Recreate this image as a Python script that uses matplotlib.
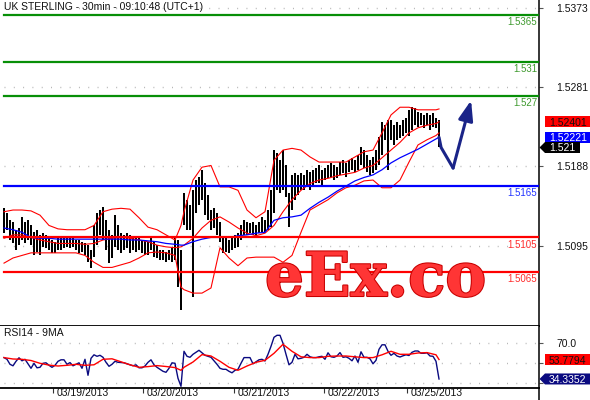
import numpy as np
import matplotlib
matplotlib.use('Agg')
import matplotlib.pyplot as plt
from matplotlib.patches import Polygon
from matplotlib.lines import Line2D
import matplotlib.patheffects as pe

plt.rcParams['font.family'] = ['Liberation Sans', 'DejaVu Sans']

# ---- price bars (30min), one value per bar ----
bar_high = [
    1.5139, 1.5133, 1.5125, 1.5123, 1.5114, 1.5116, 1.5129, 1.5123, 1.5125, 1.5119,
    1.5111, 1.5114, 1.5108, 1.5110, 1.5108, 1.5105, 1.5102, 1.5100, 1.5105, 1.5104,
    1.5107, 1.5105, 1.5104, 1.5105, 1.5102, 1.5102, 1.5100, 1.5098, 1.5096, 1.5090,
    1.5119, 1.5133, 1.5137, 1.5140, 1.5125, 1.5114, 1.5108, 1.5131, 1.5119, 1.5110,
    1.5108, 1.5110, 1.5108, 1.5105, 1.5104, 1.5105, 1.5102, 1.5102, 1.5100, 1.5105,
    1.5100, 1.5096, 1.5090, 1.5090, 1.5088, 1.5090, 1.5093, 1.5105, 1.5102, 1.5090,
    1.5157, 1.5149, 1.5143, 1.5160, 1.5172, 1.5175, 1.5184, 1.5168, 1.5154, 1.5137,
    1.5139, 1.5133, 1.5123, 1.5105, 1.5104, 1.5102, 1.5105, 1.5108, 1.5110, 1.5119,
    1.5125, 1.5123, 1.5122, 1.5123, 1.5119, 1.5123, 1.5129, 1.5125, 1.5137, 1.5160,
    1.5207, 1.5203, 1.5195, 1.5207, 1.5189, 1.5157, 1.5178, 1.5180, 1.5178, 1.5180,
    1.5178, 1.5184, 1.5181, 1.5184, 1.5186, 1.5189, 1.5184, 1.5186, 1.5189, 1.5192,
    1.5189, 1.5187, 1.5193, 1.5195, 1.5192, 1.5195, 1.5198, 1.5195, 1.5201, 1.5210,
    1.5207, 1.5201, 1.5195, 1.5199, 1.5207, 1.5222, 1.5240, 1.5236, 1.5242, 1.5242,
    1.5236, 1.5240, 1.5236, 1.5242, 1.5244, 1.5254, 1.5257, 1.5256, 1.5251, 1.5250,
    1.5248, 1.5250, 1.5248, 1.5250, 1.5245, 1.5242]
bar_low = [
    1.5110, 1.5114, 1.5102, 1.5098, 1.5090, 1.5096, 1.5102, 1.5098, 1.5102, 1.5096,
    1.5084, 1.5088, 1.5084, 1.5094, 1.5093, 1.5090, 1.5087, 1.5087, 1.5090, 1.5090,
    1.5093, 1.5094, 1.5093, 1.5094, 1.5090, 1.5087, 1.5088, 1.5084, 1.5076, 1.5069,
    1.5082, 1.5096, 1.5108, 1.5102, 1.5090, 1.5075, 1.5081, 1.5094, 1.5090, 1.5087,
    1.5090, 1.5093, 1.5087, 1.5090, 1.5088, 1.5090, 1.5087, 1.5084, 1.5084, 1.5090,
    1.5082, 1.5081, 1.5079, 1.5079, 1.5076, 1.5079, 1.5076, 1.5079, 1.5047, 1.5020,
    1.5119, 1.5114, 1.5114, 1.5035, 1.5133, 1.5143, 1.5149, 1.5131, 1.5125, 1.5114,
    1.5116, 1.5108, 1.5100, 1.5087, 1.5088, 1.5087, 1.5090, 1.5093, 1.5094, 1.5102,
    1.5108, 1.5108, 1.5110, 1.5108, 1.5105, 1.5110, 1.5111, 1.5110, 1.5114, 1.5117,
    1.5133, 1.5160, 1.5157, 1.5160, 1.5152, 1.5117, 1.5137, 1.5149, 1.5154, 1.5160,
    1.5160, 1.5164, 1.5160, 1.5166, 1.5168, 1.5168, 1.5166, 1.5172, 1.5174, 1.5175,
    1.5172, 1.5174, 1.5178, 1.5180, 1.5175, 1.5181, 1.5184, 1.5181, 1.5184, 1.5189,
    1.5186, 1.5181, 1.5178, 1.5180, 1.5184, 1.5189, 1.5201, 1.5219, 1.5184, 1.5219,
    1.5213, 1.5219, 1.5221, 1.5224, 1.5227, 1.5224, 1.5230, 1.5236, 1.5234, 1.5236,
    1.5233, 1.5236, 1.5230, 1.5234, 1.5233, 1.5210]

# ---- indicator lines, sampled every few bars ----
band_idx = [0, 3, 6, 9, 12, 15, 18, 21, 24, 27, 30, 33, 36, 39, 42, 45, 48, 51, 54, 57,
            59, 60, 63, 66, 69, 72, 75, 78, 81, 84, 87, 90, 93, 96, 99, 102, 105, 108, 111, 114,
            117, 120, 123, 126, 129, 132, 135, 138, 141, 144, 145]
bb_upper = [1.5135, 1.5137, 1.5137, 1.5136, 1.5131, 1.5119, 1.5115, 1.5114, 1.5114, 1.5114,
            1.5119, 1.5135, 1.5138, 1.5139, 1.5138, 1.5128, 1.5117, 1.5114, 1.5108, 1.5102,
            1.5119, 1.5135, 1.5172, 1.5187, 1.5189, 1.5164, 1.5164, 1.5160, 1.5137, 1.5128,
            1.5135, 1.5195, 1.5207, 1.5209, 1.5207, 1.5199, 1.5193, 1.5193, 1.5193, 1.5193,
            1.5199, 1.5205, 1.5207, 1.5227, 1.5248, 1.5257, 1.5257, 1.5254, 1.5254, 1.5254,
            1.5255]
bb_lower = [1.5075, 1.5081, 1.5084, 1.5087, 1.5087, 1.5087, 1.5087, 1.5087, 1.5087, 1.5084,
            1.5076, 1.5070, 1.5070, 1.5073, 1.5076, 1.5081, 1.5087, 1.5088, 1.5087, 1.5084,
            1.5047, 1.5044, 1.5040, 1.5040, 1.5046, 1.5093, 1.5081, 1.5072, 1.5081, 1.5082,
            1.5082, 1.5082, 1.5076, 1.5084, 1.5111, 1.5137, 1.5143, 1.5149, 1.5157, 1.5163,
            1.5166, 1.5171, 1.5172, 1.5163, 1.5163, 1.5172, 1.5193, 1.5213, 1.5219, 1.5224,
            1.5227]
bb_mid = [1.5104, 1.5108, 1.5108, 1.5105, 1.5102, 1.5100, 1.5098, 1.5098, 1.5098, 1.5097,
          1.5098, 1.5102, 1.5104, 1.5105, 1.5104, 1.5102, 1.5100, 1.5096, 1.5094, 1.5093,
          1.5094, 1.5096, 1.5104, 1.5116, 1.5125, 1.5129, 1.5123, 1.5116, 1.5110, 1.5107,
          1.5110, 1.5119, 1.5135, 1.5149, 1.5160, 1.5168, 1.5172, 1.5174, 1.5177, 1.5179,
          1.5181, 1.5186, 1.5189, 1.5198, 1.5207, 1.5216, 1.5227, 1.5233, 1.5236, 1.5238,
          1.5240]
ma_blue = [1.5116, 1.5114, 1.5111, 1.5105, 1.5104, 1.5104, 1.5103, 1.5103, 1.5103, 1.5103,
           1.5103, 1.5103, 1.5103, 1.5103, 1.5102, 1.5102, 1.5101, 1.5100, 1.5098, 1.5097,
           1.5096, 1.5096, 1.5100, 1.5103, 1.5105, 1.5105, 1.5105, 1.5107, 1.5108, 1.5110,
           1.5111, 1.5125, 1.5128, 1.5129, 1.5131, 1.5139, 1.5146, 1.5152, 1.5159, 1.5165,
           1.5171, 1.5175, 1.5178, 1.5184, 1.5192, 1.5198, 1.5203, 1.5208, 1.5214, 1.5220,
           1.5222]

# RSI14 per bar and its 9MA (sampled)
rsi = [
    55.7, 54, 49, 47.5, 52, 55.5, 52.5, 54, 49.5, 45,
    50, 45.5, 46, 50, 50.5, 48, 46, 48, 52, 53.5,
    53.5, 49, 50.7, 47.5, 49, 50.5, 45, 54, 38, 55,
    58.5, 57, 58, 56, 51, 47, 49, 52, 51, 50.7,
    50.5, 49.5, 48.5, 47.5, 48.5, 45.5, 45.5, 47.3, 51, 53.5,
    48.5, 46, 44, 42, 41, 45, 50.5, 50, 35, 27,
    62, 57, 56, 59, 61, 63, 60.5, 58, 57, 56,
    52.5, 49, 45, 44, 44, 42, 40.5, 43, 44, 50,
    55.7, 55.7, 55.7, 49.5, 51.5, 53.5, 54, 52.3, 59, 67,
    76, 78, 78, 70, 59, 48.5, 51, 59, 54.5, 55,
    56, 59, 56.5, 55.7, 55.7, 56.5, 57, 54, 60.5, 56.5,
    56, 57.3, 60.7, 56, 56.5, 55, 52.5, 57.3, 51, 61.5,
    56, 56, 54.5, 49.5, 53, 64, 68.5, 68.5, 62, 58,
    60, 57.3, 56.3, 57.5, 58.5, 57.8, 61, 62.3, 62.3, 60,
    60, 60.5, 57.3, 57, 52, 34.3]
rsi_ma = [55.7, 54.3, 54, 52.8, 50, 48.2, 47.3, 48, 49, 48,
          48.5, 54, 54.5, 51.5, 48.5, 46, 46.7, 47.7, 46.8, 45.7,
          43, 46, 51.3, 58.7, 57.3, 52, 46, 43, 47.3, 51,
          53, 60, 69, 62, 56.5, 55.7, 55.7, 57, 57.3, 57.3,
          56.5, 55.7, 55.7, 58.5, 62, 59, 59, 60.3, 60.7, 58.5,
          53.8]

# support / resistance levels
level_prices = [1.5365, 1.531, 1.527, 1.5165, 1.5105, 1.5065]
level_labels = ['1.5365', '1.531', '1.527', '1.5165', '1.5105', '1.5065']
level_colors = ['#078f07', '#078f07', '#078f07', '#0000ff', '#ff0000', '#ff0000']
level_text_colors = ['#3f9a2f', '#3f9a2f', '#3f9a2f', '#2233ff', '#ff2a2a', '#ff2a2a']

# forecast arrow
arrow_idx = [145, 145.7, 149.7, 155.7]
arrow_price = [1.5222, 1.5210, 1.5186, 1.5265]

price_ticks = [1.5373, 1.5281, 1.5188, 1.5095]
price_tick_labels = ['1.5373', '1.5281', '1.5188', '1.5095']
# 50 and 30 labels sit under the value tags, only 70.0 shows
rsi_ticks = [70, 50, 30]
rsi_tick_labels = ['70.0', '', '']

date_pos = [16.3, 46.3, 76.7, 106.7, 134.3]
date_labels = ['03/19/2013', '03/20/2013', '03/21/2013', '03/22/2013', '03/25/2013']

W, H = 590, 400
fig = plt.figure(figsize=(W / 100, H / 100), dpi=100)
fig.patch.set_facecolor('white')

ax1 = fig.add_axes([0, 74 / H, 538.5 / W, 326 / H])
ax2 = fig.add_axes([0, 12 / H, 538.5 / W, 62 / H])

xlim = (-4 / 3, (538.5 - 4) / 3)
for ax in (ax1, ax2):
    ax.set_xlim(*xlim)
    ax.spines['top'].set_visible(False)
    ax.spines['left'].set_visible(False)
    ax.spines['bottom'].set_linewidth(1.3)
    ax.spines['right'].set_linewidth(1.1)
    ax.yaxis.tick_right()
    ax.tick_params(axis='y', direction='out', length=3, width=0.8, pad=10,
                   labelsize=7.5, labelcolor='#111111', color='#555555')

ax1.set_ylim(1.50016, 1.53822)
ax2.set_ylim(25.3, 87.3)

idx = np.arange(len(bar_high))

# dotted grid
dots = (0, (0.7, 6))
for v in price_ticks:
    ax1.axhline(v, xmin=4 / 538.5, color='#b5b5b5', lw=1, ls=dots, zorder=0.5)
for v in rsi_ticks:
    ax2.axhline(v, xmin=4 / 538.5, color='#b5b5b5', lw=1, ls=dots, zorder=0.5)

# price bars (high-low)
ax1.vlines(idx, bar_low, bar_high, color='black', lw=1.15, zorder=2, antialiased=False)

# bollinger + moving average
ax1.plot(band_idx, bb_upper, color='#ff0000', lw=0.8, zorder=3)
ax1.plot(band_idx, bb_lower, color='#ff0000', lw=0.8, zorder=3)
ax1.plot(band_idx, bb_mid, color='#ff0000', lw=0.8, zorder=3)
ax1.plot(band_idx, ma_blue, color='#0000ff', lw=0.9, zorder=3)

# levels
for p, lab, c, tc in zip(level_prices, level_labels, level_colors, level_text_colors):
    ax1.axhline(p, xmin=4 / 538.5, color=c, lw=1.6, zorder=4)
    ax1.annotate(lab, xy=(1, p), xycoords=('axes fraction', 'data'),
                 xytext=(-1, -1.5), textcoords='offset points',
                 ha='right', va='top', fontsize=7, color=tc, zorder=4)

# forecast arrow
ax1.plot(arrow_idx[:-1], arrow_price[:-1], color='#1a2488', lw=2.2,
         solid_capstyle='round', solid_joinstyle='round', zorder=5)
ax1.annotate('', xy=(arrow_idx[-1], arrow_price[-1]),
             xytext=(arrow_idx[-2], arrow_price[-2]),
             arrowprops=dict(arrowstyle='-|>,head_length=0.6,head_width=0.22',
                             mutation_scale=20, color='#1a2488', lw=2.2,
                             shrinkA=0, shrinkB=0), zorder=5)

ax1.set_xticks([])
ax1.set_yticks(price_ticks)
ax1.set_yticklabels(price_tick_labels)

# RSI panel
ax2.plot(idx, rsi, color='#0a0a80', lw=1.0, zorder=3)
ax2.plot(band_idx, rsi_ma, color='#ff0000', lw=1.0, zorder=3)
ax2.set_yticks(rsi_ticks)
ax2.set_yticklabels(rsi_tick_labels)
ax2.set_xticks(date_pos)
ax2.set_xticklabels([])
ax2.tick_params(axis='x', direction='out', length=3.5, width=0.8, color='#333333')
for pos, lab in zip(date_pos, date_labels):
    ax2.annotate(lab, xy=(pos, 0), xycoords=('data', 'axes fraction'),
                 xytext=(2.8, 0), textcoords='offset points',
                 ha='left', va='top', fontsize=7.5, color='#111111')

# right spine goes down to the bottom edge
fig.add_artist(Line2D([538.5 / W, 538.5 / W], [0, 12 / H], transform=fig.transFigure,
                      color='black', lw=1.1))


def tag(ax, value, text, fc, tc, right=590, arrow=False):
    yd = ax.transData.transform((0, value))[1] / H
    h = 5.5 / H
    x0, x1 = 545 / W, right / W
    if arrow:
        pts = [(539.5 / W, yd), (x0, yd + h), (x1, yd + h), (x1, yd - h), (x0, yd - h)]
    else:
        pts = [(x0, yd + h), (x1, yd + h), (x1, yd - h), (x0, yd - h)]
    fig.add_artist(Polygon(pts, closed=True, transform=fig.transFigure,
                           facecolor=fc, edgecolor='none', zorder=5))
    fig.text(549 / W, yd, text, ha='left', va='center_baseline', fontsize=7.5,
             color=tc, zorder=6)


tag(ax1, 1.52401, '1.52401', '#ff0000', '#111111')
tag(ax1, 1.52221, '1.52221', '#0000ff', 'white')
tag(ax1, 1.521, '1.521', '#000000', 'white', right=580, arrow=True)
tag(ax2, 53.7794, '53.7794', '#ff0000', '#111111')
tag(ax2, 34.3352, '34.3352', '#0a0a80', 'white', arrow=True)

# headers
fig.text(4 / W, 1 - 7 / H, 'UK STERLING - 30min - 09:10:48 (UTC+1)',
         ha='left', va='center', fontsize=7.5, color='#111111')
fig.text(4 / W, 1 - 333 / H, 'RSI14 - 9MA', ha='left', va='center',
         fontsize=7.5, color='#111111')

# watermark
fig.text(265 / W, 1 - 296 / H, 'eEx.co', ha='left', va='baseline',
         fontfamily='DejaVu Serif', fontweight='bold', fontsize=44,
         color='#ff3535', zorder=8,
         path_effects=[pe.withStroke(linewidth=1.5, foreground='#c80000')])

fig.savefig('out.png', dpi=100)
